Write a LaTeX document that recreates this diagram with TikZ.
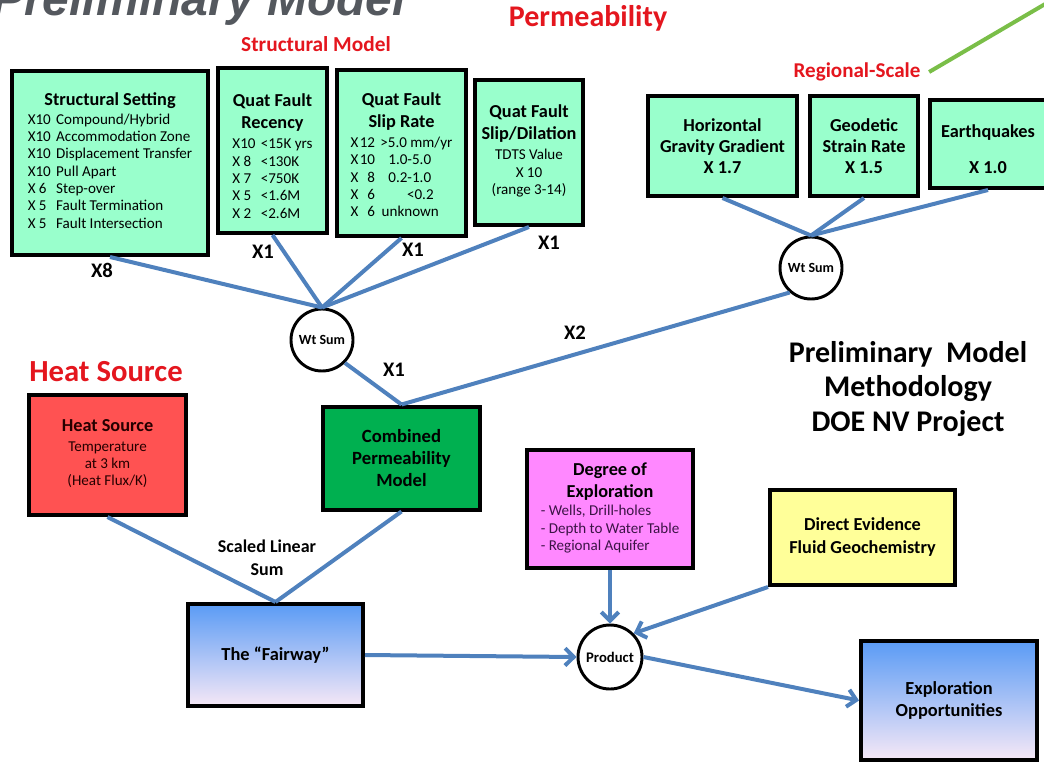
\documentclass[tikz,border=0pt]{standalone}
\usepackage{fontspec}
\setmainfont{Carlito}
\newfontfamily\arialf{Liberation Sans}
\usetikzlibrary{arrows.meta}
\definecolor{mint}{RGB}{153,255,204}
\definecolor{cgreen}{RGB}{0,176,80}
\definecolor{cred}{RGB}{255,82,82}
\definecolor{cpink}{RGB}{255,136,255}
\definecolor{cyellow}{RGB}{255,255,153}
\definecolor{lblue}{RGB}{79,129,189}
\definecolor{tred}{RGB}{228,22,30}
\definecolor{tgray}{RGB}{84,88,94}
\definecolor{agreen}{RGB}{122,190,72}
\definecolor{gtop}{RGB}{90,155,245}
\definecolor{gbot}{RGB}{246,232,246}
\definecolor{dpurple}{RGB}{60,20,70}
\newcommand\bt[1]{{\fontsize{13.7}{14}\selectfont\bfseries #1}}
\tikzset{
  sz/.style 2 args={minimum width=#1*0.75pt,minimum height=#2*0.75pt},
  box/.style={draw=black,line width=3pt,inner sep=2pt,align=center,font=\fontsize{11.3}{13}\selectfont},
  mintbox/.style={box,fill=mint},
  gradbox/.style={box,top color=gtop,bottom color=gbot},
  sumnode/.style={circle,draw=black,line width=2.2pt,fill=white,minimum size=46.5pt,inner sep=0pt,font=\fontsize{10.5}{11}\selectfont\bfseries},
  wire/.style={draw=lblue,line width=3pt},
  arr/.style={wire,-{Straight Barb[length=6.5pt,width=13pt]}},
  redlbl/.style={text=tred,font=\bfseries},
  xlbl/.style={font=\fontsize{15.5}{17}\selectfont\bfseries},
  ttl/.style={font=\fontsize{13.8}{16.5}\selectfont\bfseries}
}
\begin{document}
\begin{tikzpicture}[x=0.75pt,y=-0.75pt]
\useasboundingbox (0,0) rectangle (1044,763);

% title
\node[anchor=base west,inner sep=0pt,text=tgray,font=\arialf\fontsize{36}{40}\selectfont\bfseries\itshape] (title) at (-8,16) {Preliminary Model};

% red headings
\node[redlbl,font=\fontsize{16}{18}\selectfont\bfseries] (hstruct) at (316,44) {Structural Model};
\node[redlbl,font=\fontsize{22.5}{24}\selectfont\bfseries] (hperm) at (588,18) {Permeability};
\node[redlbl,font=\fontsize{15.8}{18}\selectfont\bfseries] (hreg) at (857,72) {Regional-Scale};
\node[redlbl,font=\fontsize{23}{26}\selectfont\bfseries] (hheat) at (106,372) {Heat Source};
\coordinate (gend) at (1052,0);
\draw[draw=agreen,line width=3pt] ([xshift=3pt]hreg.east) -- (gend);

% structural boxes
\node[mintbox,sz={196}{184}] (ss) at (110,163) {\bt{Structural Setting}\\[1pt]
\begin{tabular}[t]{@{}l@{\hspace{4pt}}l@{}}
X10 & Compound/Hybrid\\
X10 & Accommodation Zone\\
X10 & Displacement Transfer\\
X10 & Pull Apart\\
X 6 & Step-over\\
X 5 & Fault Termination\\
X 5 & Fault Intersection
\end{tabular}};

\node[mintbox,sz={109}{165}] (rec) at (272.5,150.5) {\mbox{}\\[9pt]\bt{Quat Fault}\\[3.5pt]\bt{Recency}\\[2pt]
\begin{tabular}[t]{@{}l@{\hspace{4pt}}l@{}}
X10 & {<}15K yrs\\
X 8 & {<}130K\\
X 7 & {<}750K\\
X 5 & {<}1.6M\\
X 2 & {<}2.6M
\end{tabular}};

\node[mintbox,sz={129}{166}] (slip) at (401.5,153) {\mbox{}\\[3pt]\bt{Quat Fault}\\[3.5pt]\bt{Slip Rate}\\[2pt]
\begin{tabular}[t]{@{}l@{\hspace{1pt}}r@{\hspace{3pt}}l@{}}
X & 12 & \hspace{1pt}{>}5.0 mm/yr\\
X & 10 & \hspace{7pt}1.0-5.0\\
X & 8 & \hspace{7pt}0.2-1.0\\
X & 6 & \hspace{21pt}{<}0.2\\
X & 6 & \hspace{2pt}unknown
\end{tabular}};

\node[mintbox,sz={108}{145}] (dil) at (529,152.5) {\bt{Quat Fault}\\[3.5pt]\bt{Slip/Dilation}\\[2pt]
\begin{tabular}[t]{@{}c@{}}
TDTS Value\\X 10\\(range 3-14)
\end{tabular}};

% regional boxes
\node[mintbox,sz={149}{100},font=\fontsize{13.7}{15.75}\selectfont\bfseries] (hgg) at (722.5,146) {Horizontal\\Gravity Gradient\\X 1.7};
\node[mintbox,sz={108}{100},font=\fontsize{13.7}{15.75}\selectfont\bfseries] (gsr) at (864,146) {Geodetic\\Strain Rate\\X 1.5};
\node[mintbox,sz={116}{88},font=\fontsize{13.7}{15}\selectfont\bfseries] (eq) at (988,144) {\mbox{}\\[2.5pt]Earthquakes\\[12pt]X 1.0};

% sum nodes
\node[sumnode] (ws1) at (322,340) {Wt Sum};
\node[sumnode] (ws2) at (811,268) {Wt Sum};
\node[sumnode,minimum size=48pt,font=\fontsize{11}{12}\selectfont\bfseries] (prod) at (610,657) {Product};

% lower boxes
\node[box,fill=cred,sz={157}{120},text=black!85!red] (heat) at (107.5,455) {\bt{Heat Source}\\[2pt]
\begin{tabular}[t]{@{}c@{}}
Temperature\\at 3 km\\(Heat Flux/K)
\end{tabular}};
\node[box,fill=cgreen,sz={157}{103},font=\fontsize{14}{16.5}\selectfont\bfseries] (comb) at (401.5,458) {Combined\\Permeability\\Model};
\node[gradbox,sz={175}{102},ttl] (fair) at (275.5,655) {The “Fairway”};
\node[box,fill=cpink,sz={166}{118}] (deg) at (610,509) {\bt{Degree of}\\[3.5pt]\bt{Exploration}\\[1pt]
{\color{dpurple}\begin{tabular}[t]{@{}l@{}}
- Wells, Drill-holes\\
- Depth to Water Table\\
- Regional Aquifer
\end{tabular}}};
\node[box,fill=cyellow,sz={185}{95},font=\fontsize{13.7}{17.25}\selectfont\bfseries] (dir) at (862.5,537.5) {Direct Evidence\\Fluid Geochemistry};
\node[gradbox,sz={176}{119},ttl] (expl) at (949,700.5) {Exploration\\Opportunities};

% right text
\node[align=center,font=\fontsize{22.5}{26}\selectfont\bfseries] (meth) at (908,389) {Preliminary\ \ Model\\Methodology\\DOE NV Project};

% connectors
\draw[wire] (ss.south) -- (ws1.north);
\draw[wire] (rec.south) -- (ws1.north);
\draw[wire] (slip.south) -- (ws1.north);
\draw[wire] (dil.south) -- (ws1.north);
\draw[wire] (hgg.south) -- (ws2.north);
\draw[wire] (gsr.south) -- (ws2.north);
\draw[wire] (eq.south) -- (ws2.north);
\draw[wire] (ws1.-45) -- (comb.north);
\draw[wire] (ws2.-131) -- (comb.north);
\draw[wire] (heat.south) -- (fair.north);
\draw[wire] (comb.south) -- (fair.north);
\draw[arr] (fair.east) -- (prod.west);
\draw[arr] (deg.south) -- (prod.north);
\draw[arr] (dir.south west) -- (prod.45);
\draw[arr] (prod.east) -- (expl.west);

% weight labels
\node[xlbl] (l8) at (102,270) {X8};
\node[xlbl] (l1a) at (263,252) {X1};
\node[xlbl] (l1b) at (413,250) {X1};
\node[xlbl] (l1c) at (549,243) {X1};
\node[xlbl] (l2) at (575,333) {X2};
\node[xlbl] (l1d) at (394,370) {X1};
\node[align=center,font=\fontsize{13.5}{17}\selectfont\bfseries] (sls) at (267,558) {Scaled Linear\\Sum};
\end{tikzpicture}
\end{document}
